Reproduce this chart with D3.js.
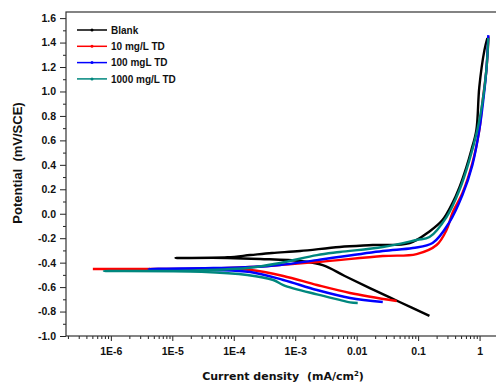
<!DOCTYPE html>
<html>
<head>
<meta charset="utf-8">
<script src="https://cdn.jsdelivr.net/npm/d3@7"></script>
<style>
  body { margin: 0; background: #fff; }
  .tick text { font-family: "Liberation Sans", Arial, sans-serif; font-weight: bold; font-size: 10.5px; fill: #111; }
  .tick line { stroke: #222; }
</style>
</head>
<body>
<div class="chart"></div>
<script>
const w = 496;
const h = 383;

// [current density (mA/cm2), potential]
const blank = [[0.153,-0.836],[0.05,-0.722],[0.0164,-0.608],[0.0064,-0.509],[0.0028,-0.42],[0.0012,-0.387],
  [0.00027,-0.37],[0.000079,-0.362],[0.0000113,-0.362],[0.000079,-0.356],[0.000186,-0.338],[0.00042,-0.321],
  [0.0012,-0.305],[0.0053,-0.272],[0.0183,-0.256],[0.073,-0.24],[0.153,-0.145],[0.249,-0.052],[0.362,0.087],
  [0.471,0.218],[0.611,0.382],[0.736,0.521],[0.887,0.684],[0.99,1.036],[1.2,1.338],[1.34,1.437]];
const td10 = [[0.0448,-0.714],[0.0078,-0.648],[0.00226,-0.583],[0.00064,-0.509],[0.000186,-0.46],
  [0.0000467,-0.452],[0.00000051,-0.452],[0.0000164,-0.452],[0.000186,-0.436],[0.00226,-0.395],[0.0266,-0.346],
  [0.0946,-0.33],[0.2,-0.256],[0.29,-0.133],[0.362,0.006],[0.526,0.169],[0.764,0.415],[0.99,0.684],[1.11,0.905],
  [1.29,1.175],[1.4,1.45]];
const td100 = [[0.0266,-0.722],[0.0078,-0.689],[0.00226,-0.624],[0.00064,-0.542],[0.000186,-0.477],[0.0000467,-0.46],
  [0.0000041,-0.452],[0.0000467,-0.444],[0.000186,-0.436],[0.00057,-0.419],[0.00226,-0.379],[0.0266,-0.305],
  [0.0815,-0.28],[0.172,-0.24],[0.324,-0.068],[0.526,0.153],[0.764,0.398],[0.99,0.684],[1.15,0.93],[1.29,1.175],
  [1.39,1.461]];
const td1000 = [[0.0104,-0.73],[0.0078,-0.725],[0.0053,-0.705],[0.00226,-0.66],[0.00064,-0.583],[0.00044,-0.542],
  [0.000166,-0.501],[0.00003,-0.475],[0.00000077,-0.469],[0.0000164,-0.466],[0.000166,-0.444],[0.00057,-0.403],
  [0.00226,-0.338],[0.0053,-0.313],[0.0266,-0.272],[0.0946,-0.215],[0.153,-0.191],[0.29,-0.027],[0.471,0.194],
  [0.684,0.439],[0.92,0.684],[1.11,0.905],[1.29,1.175],[1.39,1.437]];

const seriesNames = ["Blank", "10 mg/L TD", "100 mgL TD", "1000 mg/L TD"];
const seriesColors = ["#000000", "#ff0000", "#0000ff", "#00877e"];
const seriesData = [blank, td10, td100, td1000];

const xTicks = [1e-6, 1e-5, 1e-4, 1e-3, 0.01, 0.1, 1];
const xTickLabels = ["1E-6", "1E-5", "1E-4", "1E-3", "0.01", "0.1", "1"];
const yTicks = d3.range(-10, 17, 2).map(d => d / 10);

const mLeft = 66, mTop = 12, mRight = 498, mBottom = 336;

const svg = d3.select(".chart")
.append("svg")
.attr("width", w)
.attr("height", h);

const x = d3.scaleLog()
  .domain([Math.pow(10, -6.73), Math.pow(10, 0.3)])
  .range([mLeft, mRight]);

const y = d3.scaleLinear()
  .domain([-1.0, 1.65])
  .range([mBottom, mTop]);

// minor ticks
let xMinor = [];
for (let e = -7; e <= 0; e++) {
  for (let k = 2; k <= 9; k++) {
    let v = k * Math.pow(10, e);
    if (v > x.domain()[0] && v < x.domain()[1]) xMinor.push(v);
  }
}
const yMinor = d3.range(-9, 17, 2).map(d => d / 10);

svg.append("g")
  .attr("transform", `translate(0,${mBottom})`)
  .call(d3.axisBottom(x).tickValues(xMinor).tickSize(3).tickFormat(""))
  .call(g => g.select(".domain").remove());

svg.append("g")
  .attr("transform", `translate(0,${mBottom})`)
  .call(d3.axisBottom(x).tickValues(xTicks).tickSize(5).tickPadding(7)
    .tickFormat((d, i) => xTickLabels[i]))
  .call(g => g.select(".domain").remove());

svg.append("g")
  .attr("transform", `translate(${mLeft},0)`)
  .call(d3.axisLeft(y).tickValues(yMinor).tickSize(3).tickFormat(""))
  .call(g => g.select(".domain").remove());

svg.append("g")
  .attr("transform", `translate(${mLeft},0)`)
  .call(d3.axisLeft(y).tickValues(yTicks).tickSize(6).tickPadding(4)
    .tickFormat(d => d.toFixed(1)))
  .call(g => g.select(".domain").remove());

svg.append("clipPath")
  .attr("id", "clip")
  .append("rect")
  .attr("x", mLeft).attr("y", mTop)
  .attr("width", mRight - mLeft).attr("height", mBottom - mTop);

const line = d3.line()
  .x(d => x(d[0]))
  .y(d => y(d[1]))
  .curve(d3.curveCatmullRom.alpha(0.5));

svg.append("g")
  .attr("clip-path", "url(#clip)")
  .selectAll("path")
  .data(seriesData)
  .enter().append("path")
  .attr("d", line)
  .attr("fill", "none")
  .attr("stroke", (d, i) => seriesColors[i])
  .attr("stroke-width", 2.4)
  .attr("stroke-linejoin", "round");

svg.append("rect")
  .attr("x", mLeft).attr("y", mTop)
  .attr("width", mRight - mLeft).attr("height", mBottom - mTop)
  .attr("fill", "none")
  .attr("stroke", "#333")
  .attr("stroke-width", 1.2);

// legend
const legend = svg.append("g")
  .selectAll("g")
  .data(seriesNames)
  .enter().append("g")
  .attr("transform", (d, i) => `translate(77,${30 + i * 16.3})`);

legend.append("line")
  .attr("x1", 0).attr("x2", 30)
  .attr("stroke", (d, i) => seriesColors[i])
  .attr("stroke-width", 1.5);

legend.append("circle")
  .attr("cx", 15).attr("r", 1.5)
  .attr("fill", (d, i) => seriesColors[i]);

legend.append("text")
  .attr("x", 34).attr("y", 3.8)
  .style("font-family", "'Liberation Sans', Arial, sans-serif")
  .style("font-weight", "bold")
  .style("font-size", "10px")
  .attr("fill", "#111")
  .text(d => d);

svg.append("text")
  .attr("transform", "translate(22,163) rotate(-90)")
  .attr("text-anchor", "middle")
  .style("font-family", "'Liberation Sans', Arial, sans-serif")
  .style("font-weight", "bold")
  .style("font-size", "13px")
  .attr("fill", "#111")
  .text("Potential\u00a0\u00a0(mV/SCE)");

const xl = svg.append("text")
  .attr("x", 283).attr("y", 380)
  .attr("text-anchor", "middle")
  .style("font-family", "'DejaVu Sans', Verdana, sans-serif")
  .style("font-weight", "bold")
  .style("font-size", "11px")
  .attr("fill", "#111");
xl.append("tspan").text("Current density\u00a0\u00a0(mA/cm");
xl.append("tspan").attr("dy", -4).style("font-size", "7px").text("2");
xl.append("tspan").attr("dy", 4).text(")");
</script>
</body>
</html>
